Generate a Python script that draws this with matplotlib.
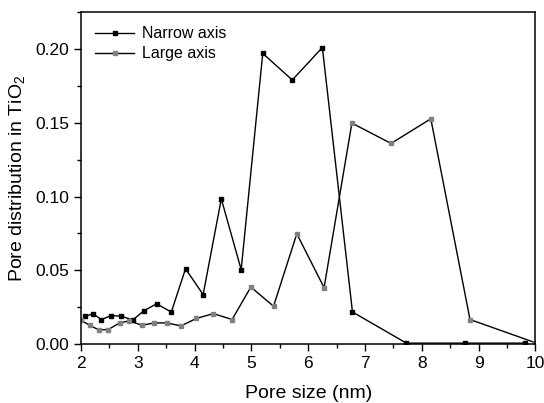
import matplotlib
matplotlib.use("Agg")
import matplotlib.pyplot as plt
from matplotlib.ticker import MultipleLocator, FormatStrFormatter

plt.rcParams["font.family"] = ["Liberation Sans", "DejaVu Sans"]
plt.rcParams["mathtext.default"] = "regular"

# Narrow axis (black)
narrow_x = [2.07, 2.21, 2.36, 2.53, 2.71, 2.91, 3.11, 3.33, 3.59, 3.84,
            4.15, 4.47, 4.82, 5.20, 5.72, 6.25, 6.78, 7.73, 8.77, 9.82]
narrow_y = [0.019, 0.0205, 0.0167, 0.0194, 0.0189, 0.0164, 0.0227, 0.0273, 0.0218, 0.0511,
            0.0336, 0.0984, 0.0505, 0.197, 0.179, 0.201, 0.0218, 0.0007, 0.0007, 0.0007]

# Large axis (gray)
large_x = [2.00, 2.15, 2.31, 2.48, 2.68, 2.85, 3.07, 3.29, 3.51, 3.76, 4.03,
           4.33, 4.66, 4.99, 5.39, 5.80, 6.28, 6.77, 7.46, 8.16, 8.85, 10.0]
large_y = [0.0162, 0.0128, 0.0097, 0.0099, 0.0144, 0.0158, 0.0128, 0.0144, 0.0144, 0.0124, 0.0174,
           0.0207, 0.0167, 0.0387, 0.0257, 0.0748, 0.0383, 0.1498, 0.136, 0.1527, 0.0167, 0.001]

fig = plt.figure(figsize=(5.44, 4.03), dpi=100)
ax = fig.add_axes([0.149, 0.146, 0.835, 0.824])

ax.plot(narrow_x, narrow_y, color="black", lw=1.0, marker="s", ms=3.3,
        mfc="black", mec="black", label="Narrow axis")
ax.plot(large_x, large_y, color="black", lw=1.0, marker="s", ms=3.3,
        mfc="#808080", mec="#808080", label="Large axis")

ax.set_xlim(2, 10)
ax.set_ylim(0, 0.225)
ax.xaxis.set_major_locator(MultipleLocator(1))
ax.xaxis.set_minor_locator(MultipleLocator(0.5))
ax.yaxis.set_major_locator(MultipleLocator(0.05))
ax.yaxis.set_minor_locator(MultipleLocator(0.025))
ax.yaxis.set_major_formatter(FormatStrFormatter("%.2f"))

ax.tick_params(which="both", direction="out", labelsize=12.5)
ax.tick_params(which="major", length=5, width=1)
ax.tick_params(which="minor", length=3, width=1)
for s in ax.spines.values():
    s.set_linewidth(1.1)

ax.set_xlabel("Pore size (nm)", fontsize=14, labelpad=10)
ax.set_ylabel("Pore distribution in TiO$_2$", fontsize=14, labelpad=6)

ax.legend(loc="upper left", bbox_to_anchor=(0.0, 1.0), frameon=False, fontsize=11.5,
          handlelength=2.4, handletextpad=0.5, labelspacing=0.3, borderaxespad=0.5)

fig.savefig("out.png", dpi=100)
